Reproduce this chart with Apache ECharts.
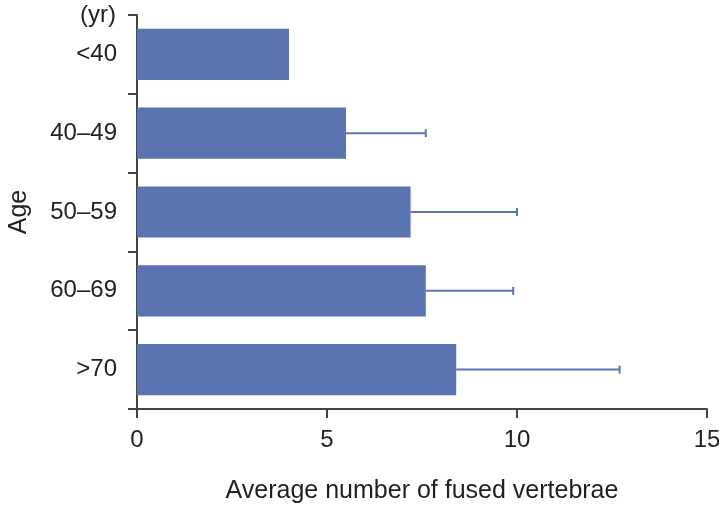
<!DOCTYPE html>
<html>
<head>
<meta charset="utf-8">
<script src="https://cdn.jsdelivr.net/npm/echarts@6/dist/echarts.min.js"></script>
<style>html,body{margin:0;padding:0;background:#fff}#c{width:719px;height:507px}</style>
</head>
<body>
<div id="c"></div>
<script>
const categories = ['<40', '40–49', '50–59', '60–69', '>70'];
const means = [4.0, 5.5, 7.2, 7.6, 8.4];
const upper = [null, 7.6, 10.0, 9.9, 12.7];
const xTicks = [0, 5, 10, 15];

const chart = echarts.init(document.getElementById('c'));
const textColor = '#231f20';
const axisColor = '#444';
const barColor = '#5b74b1';
const font = "'Liberation Sans', Arial, sans-serif";
const fs = 24;
const nfs = 25;

const errData = categories.map((c, i) => [i, means[i], upper[i]]).filter(d => d[2] != null);

chart.setOption({
  animation: false,
  grid: { left: 137, right: 12, top: 15, bottom: 98, containLabel: false, outerBoundsMode: 'none' },
  xAxis: {
    type: 'value', min: xTicks[0], max: xTicks[xTicks.length - 1], interval: 5,
    name: 'Average number of fused vertebrae', nameLocation: 'middle', nameGap: 70,
    nameTextStyle: { fontSize: nfs, color: textColor, fontFamily: font },
    axisLine: { show: true, lineStyle: { color: axisColor, width: 2 } },
    axisTick: { show: true, length: 9, lineStyle: { color: axisColor, width: 2 } },
    axisLabel: { fontSize: fs, color: textColor, fontFamily: font, margin: 19 },
    splitLine: { show: false }
  },
  yAxis: {
    type: 'category', data: categories, inverse: true,
    name: 'Age', nameLocation: 'middle', nameGap: 105, nameRotate: 90,
    nameTextStyle: { fontSize: nfs, color: textColor, fontFamily: font },
    axisLine: { show: true, lineStyle: { color: axisColor, width: 2 } },
    axisTick: { show: true, length: 9, lineStyle: { color: axisColor, width: 2 } },
    axisLabel: { fontSize: fs, color: textColor, fontFamily: font, margin: 20 }
  },
  graphic: [{
    type: 'text', x: 116, y: 3,
    style: { text: '(yr)', fontSize: fs, fill: textColor, fontFamily: font, align: 'right', textAlign: 'right' }
  }],
  series: [{
    type: 'bar', data: means, barCategoryGap: '35%',
    itemStyle: { color: barColor }
  }, {
    type: 'custom',
    data: errData,
    encode: { y: 0, x: [1, 2] },
    renderItem: function (params, api) {
      const yi = api.value(0);
      const p0 = api.coord([api.value(1), yi]);
      const p1 = api.coord([api.value(2), yi]);
      const h = 8;
      const st = { stroke: barColor, lineWidth: 2, fill: 'none' };
      return {
        type: 'group',
        children: [
          { type: 'line', shape: { x1: p0[0], y1: p0[1], x2: p1[0], y2: p1[1] }, style: st },
          { type: 'line', shape: { x1: p1[0], y1: p1[1] - h / 2, x2: p1[0], y2: p1[1] + h / 2 }, style: st }
        ]
      };
    },
    z: 3
  }]
});
</script>
</body>
</html>
